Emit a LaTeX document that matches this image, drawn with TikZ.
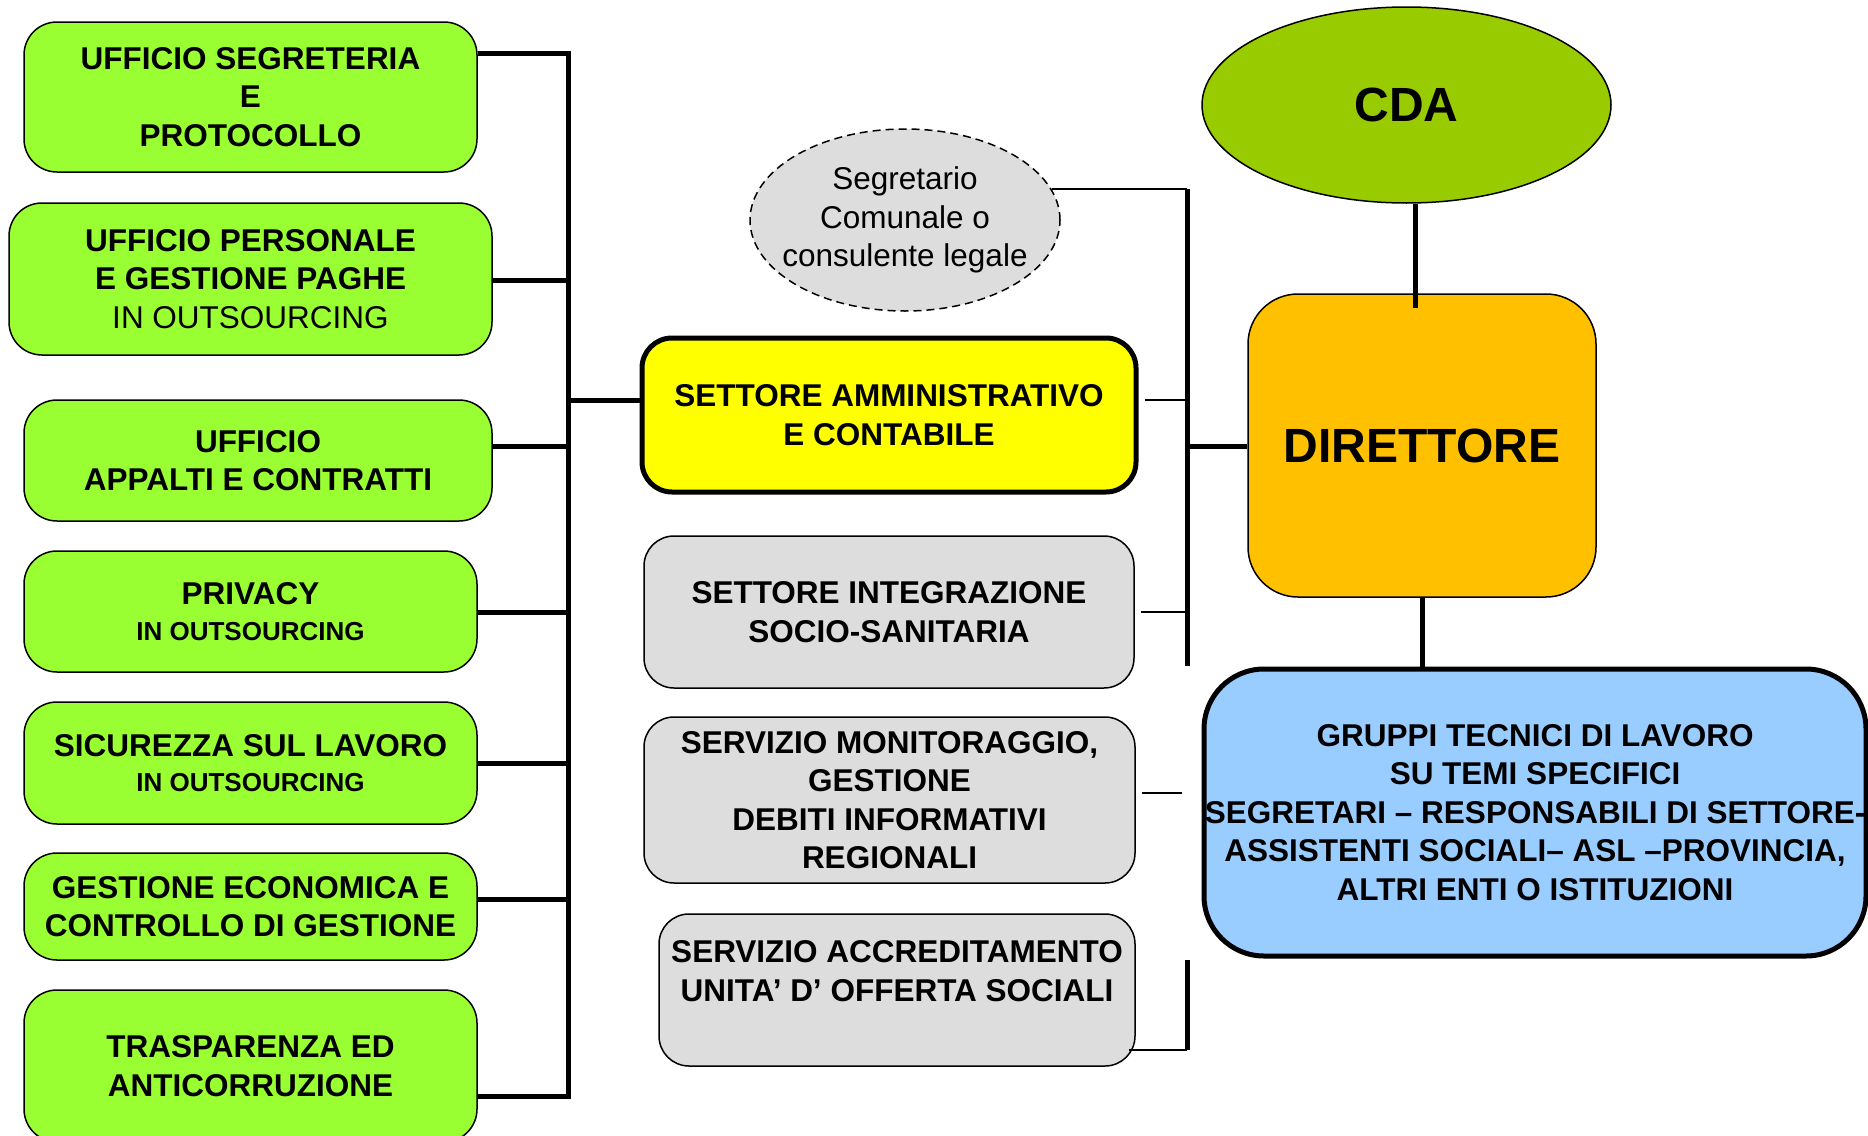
\documentclass[tikz,border=0pt]{standalone}
\usepackage{fontspec}
\setmainfont{Liberation Sans}
\usetikzlibrary{shapes.geometric}
\definecolor{ufficiogreen}{HTML}{99FF33}
\definecolor{cdagreen}{HTML}{99CC00}
\definecolor{settoreyellow}{HTML}{FFFF00}
\definecolor{direttoreorange}{HTML}{FFC000}
\definecolor{gruppiblue}{HTML}{99CCFF}
\definecolor{servgray}{HTML}{DDDDDD}
\newcommand{\orgfont}{\fontsize{31.5}{38.5}\selectfont}
\newcommand{\orgsmall}{\fontsize{26}{32}\selectfont}
\newcommand{\orgbig}{\fontsize{48}{56}\selectfont}
\tikzset{
  ufficio/.style={draw, line width=1.5, fill=ufficiogreen, rounded corners=33,
    align=center, inner sep=0, font=\orgfont\bfseries},
  settore/.style={draw, line width=1.5, fill=servgray, rounded corners=30,
    align=center, inner sep=0, font=\orgfont\bfseries},
  bar/.style={line width=5},
  thinbar/.style={line width=1.8}
}
\begin{document}
\begin{tikzpicture}[x=1pt,y=-1pt]
      \clip (0,0) rectangle (1868,1135);
      \path
        (250.5,97) node[ufficio, minimum width=453, minimum height=150] (uff1){UFFICIO SEGRETERIA\\E\\PROTOCOLLO}
        (250.5,279) node[ufficio, minimum width=483, minimum height=152] (uff2){UFFICIO PERSONALE\\E GESTIONE PAGHE\\{\mdseries IN OUTSOURCING}}
        (258,460.5) node[ufficio, minimum width=468, minimum height=121] (uff3){UFFICIO\\APPALTI E CONTRATTI}
        (250.5,611.5) node[ufficio, minimum width=453, minimum height=121] (uff4){PRIVACY\\[-3pt]{\orgsmall IN OUTSOURCING}}
        (250.5,763) node[ufficio, minimum width=453, minimum height=122] (uff5){SICUREZZA SUL LAVORO\\[-3pt]{\orgsmall IN OUTSOURCING}}
        (250.5,906.5) node[ufficio, minimum width=453, minimum height=107] (uff6){GESTIONE ECONOMICA E\\CONTROLLO DI GESTIONE}
        (250.5,1066) node[ufficio, minimum width=453, minimum height=152] (uff7){TRASPARENZA ED\\ANTICORRUZIONE}
        (905,220) node[ellipse, draw, dash pattern=on 8pt off 5pt, line width=1.5, fill=servgray,
          minimum width=310, minimum height=182, inner xsep=-14, inner ysep=0, align=center, font=\orgfont] (seg){Segretario\\Comunale o\\consulente legale}
        (889,415) node[settore, fill=settoreyellow, line width=5, minimum width=494, minimum height=154] (sam){SETTORE AMMINISTRATIVO\\E CONTABILE}
        (889,612) node[settore, minimum width=490, minimum height=152] (sis){SETTORE INTEGRAZIONE\\SOCIO-SANITARIA}
        (889.5,800) node[settore, minimum width=491, minimum height=166] (smon){SERVIZIO MONITORAGGIO,\\GESTIONE\\DEBITI INFORMATIVI\\REGIONALI}
        (897,990) node[settore, minimum width=476, minimum height=152] (sacc){SERVIZIO ACCREDITAMENTO\\UNITA’ D’ OFFERTA SOCIALI\\\mbox{}}
        (1406.5,105) node[ellipse, draw, line width=1.5, fill=cdagreen, minimum width=409, minimum height=196,
          inner sep=0, font=\orgbig\bfseries] (cda){CDA}
        (1422,445.5) node[draw, line width=1.5, fill=direttoreorange, rounded corners=50, minimum width=348,
          minimum height=303, inner sep=0, font=\orgbig\bfseries] (dir){DIRETTORE}
        (1535,812.5) node[settore, fill=gruppiblue, line width=5, rounded corners=60, minimum width=662,
          minimum height=287] (grp){GRUPPI TECNICI DI LAVORO\\SU TEMI SPECIFICI\\SEGRETARI – RESPONSABILI DI SETTORE-\\ASSISTENTI SOCIALI– ASL –PROVINCIA,\\ALTRI ENTI O ISTITUZIONI};
      \coordinate (lb1) at (568,53);
      \coordinate (lb2) at (568,280);
      \coordinate (lb3) at (568,446);
      \coordinate (lb4) at (568,612);
      \coordinate (lb5) at (568,763);
      \coordinate (lb6) at (568,899);
      \coordinate (lb7) at (568,1096);
      \coordinate (lbs) at (568,400);
      \coordinate (mbt) at (1187,189);
      \coordinate (mbb) at (1187,666);
      \coordinate (mb1) at (1187,400);
      \coordinate (mb2) at (1187,612);
      \coordinate (mb3) at (1187,446);
      \coordinate (mon) at (1182,793);
      \coordinate (acct) at (1187,960);
      \coordinate (accb) at (1187,1050);
      \coordinate (cdad) at (1415,308);
      \begin{scope}[bar]
        \draw (uff1.east |- lb1) -- (lb1) -- (lb7) -- (uff7.east |- lb7);
        \draw (uff2.east |- lb2) to (lb2);
        \draw (uff3.east |- lb3) to (lb3);
        \draw (uff4.east |- lb4) to (lb4);
        \draw (uff5.east |- lb5) to (lb5);
        \draw (uff6.east |- lb6) to (lb6);
        \draw (lbs) to (sam.west |- lbs);
        \draw (mbt) to (mbb);
        \draw (mb3) to (dir.west |- mb3);
        \draw (acct) to (accb);
        \draw (cdad |- cda.south) to (cdad);
        \draw (dir.south) to (dir.south |- grp.north);
      \end{scope}
      \begin{scope}[thinbar]
        \draw (seg.12) to (seg.12 -| mbt);
        \draw[shorten <=6pt] (sam.east |- mb1) to (mb1);
        \draw[shorten <=6pt] (sis.east |- mb2) to (mb2);
        \draw[shorten <=6pt] (smon.east |- mon) to (mon);
        \draw[shorten <=-7pt] (sacc.east |- accb) to (accb);
      \end{scope}
    \end{tikzpicture}
\end{document}
